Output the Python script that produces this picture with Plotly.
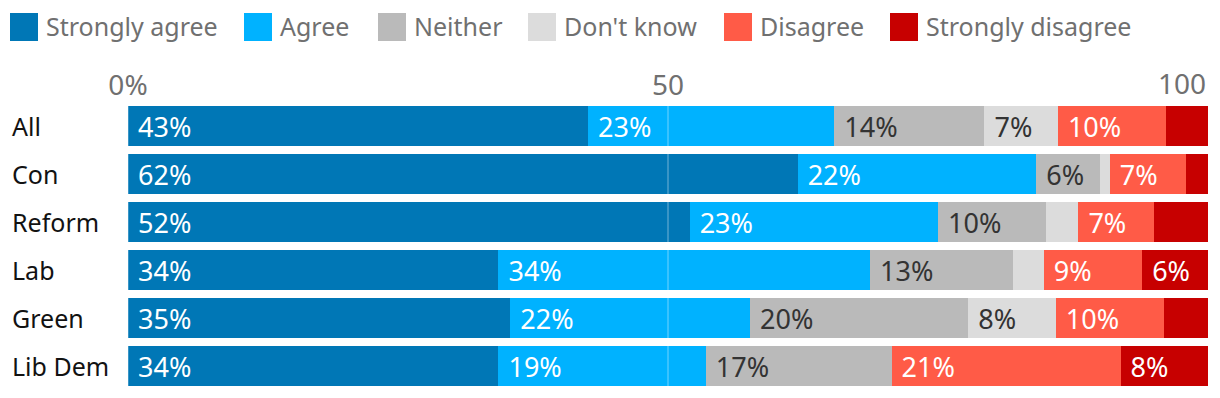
import plotly.graph_objects as go

# ---- data ----
categories = ["All", "Con", "Reform", "Lab", "Green", "Lib Dem"]
strongly_agree = [42.6, 62.0, 52.0, 34.3, 35.4, 34.3]
agree = [22.8, 22.1, 23.0, 34.4, 22.2, 19.2]
neither = [13.9, 5.9, 10.0, 13.2, 20.2, 17.2]
dont_know = [6.8, 0.9, 3.0, 2.9, 8.1, 0.0]
disagree = [10.0, 7.1, 7.0, 9.1, 10.0, 21.2]
strongly_disagree = [3.9, 2.0, 5.0, 6.1, 4.1, 8.1]
series_names = ["Strongly agree", "Agree", "Neither", "Don't know", "Disagree", "Strongly disagree"]
tick_vals = [0, 50]
tick_labels = ["0%", "50"]
end_tick_val = 100
end_tick_label = "100"

# ---- style ----
colors = ["#0077b6", "#00b2ff", "#bababa", "#dcdcdc", "#ff5b47", "#c70000"]
text_colors = ["#ffffff", "#ffffff", "#333333", "#333333", "#ffffff", "#ffffff"]
FONT = "Noto Sans"
W, H = 1220, 398
L, R, T, B = 128, 12, 102, 8
PW, PH = W - L - R, H - T - B


def px_x(px):
    return (px - L) / PW


def px_y(py):
    return (H - B - py) / PH


series = [strongly_agree, agree, neither, dont_know, disagree, strongly_disagree]

fig = go.Figure()
for name, vals, col, tcol in zip(series_names, series, colors, text_colors):
    labels = [(" %d%%" % round(v)) if round(v) >= 6 else "" for v in vals]
    fig.add_trace(go.Bar(
        y=categories, x=vals, name=name, orientation="h",
        marker=dict(color=col, line=dict(width=0)),
        text=labels, textposition="inside", insidetextanchor="start",
        textangle=0, constraintext="none",
        insidetextfont=dict(family=FONT, size=27, color=tcol),
        hoverinfo="skip", showlegend=False,
    ))

shapes = []
annotations = []

# gridlines over bars
for gx in [0, 50]:
    shapes.append(dict(type="line", xref="x", yref="paper", x0=gx, x1=gx, y0=0, y1=1,
                       line=dict(color="rgba(255,255,255,0.45)", width=1), layer="above"))

# custom legend
legend_sq_x = [10, 244, 378, 528, 724, 890]
for name, col, sx in zip(series_names, colors, legend_sq_x):
    shapes.append(dict(type="rect", xref="paper", yref="paper",
                       x0=px_x(sx), x1=px_x(sx + 28), y0=px_y(41), y1=px_y(13),
                       fillcolor=col, line=dict(width=0)))
    annotations.append(dict(text=name, xref="paper", yref="paper", x=px_x(sx + 34), y=px_y(26),
                            xanchor="left", yanchor="middle", showarrow=False,
                            font=dict(family=FONT, size=25, color="#707070")))

# category labels, left aligned
for c in categories:
    annotations.append(dict(text=c, xref="paper", yref="y", x=px_x(10), y=c,
                            xanchor="left", yanchor="middle", showarrow=False,
                            font=dict(family=FONT, size=25, color="#121212")))

# end tick label, right aligned at axis end
annotations.append(dict(text=end_tick_label, xref="x", yref="paper", x=end_tick_val, y=1,
                        xanchor="right", yanchor="bottom", yshift=-2, showarrow=False,
                        font=dict(family=FONT, size=28, color="#707070")))

fig.update_layout(
    width=W, height=H,
    margin=dict(l=L, r=R, t=T, b=B, autoexpand=False),
    barmode="stack", bargap=8 / 48,
    plot_bgcolor="white", paper_bgcolor="white",
    font=dict(family=FONT),
    shapes=shapes, annotations=annotations,
    xaxis=dict(range=[0, 100], side="top", tickvals=tick_vals, ticktext=tick_labels,
               showgrid=False, zeroline=False, showline=False, ticks="",
               tickfont=dict(family=FONT, size=28, color="#707070"), fixedrange=True),
    yaxis=dict(autorange="reversed", showticklabels=False, showgrid=False,
               zeroline=False, showline=False, ticks="", fixedrange=True),
)

fig.write_html("out.html", config={"displayModeBar": False},
               post_script="document.body.style.margin='0';document.body.style.overflow='hidden';")
